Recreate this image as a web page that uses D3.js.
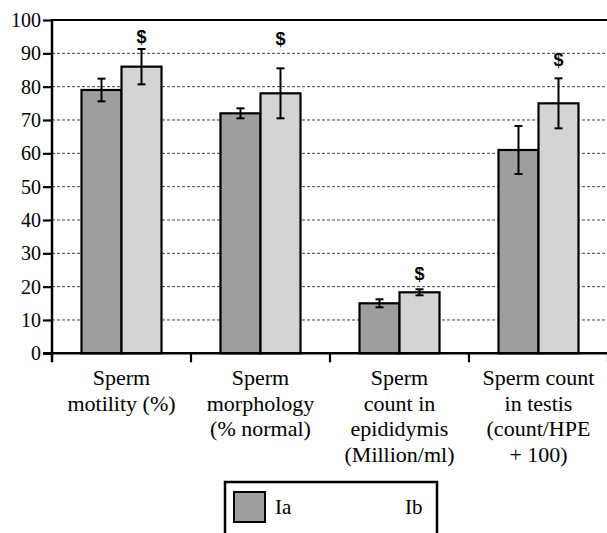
<!DOCTYPE html>
<html>
<head>
<meta charset="utf-8">
<script src="https://cdn.jsdelivr.net/npm/d3@7"></script>
<style>
  html, body { margin: 0; padding: 0; background: #fff; }
  svg { display: block; }
</style>
</head>
<body>
<div id="chart"></div>
<script>
// data
var categories = [
  ["Sperm", "motility (%)"],
  ["Sperm", "morphology", "(% normal)"],
  ["Sperm", "count in", "epididymis", "(Million/ml)"],
  ["Sperm count", "in testis", "(count/HPE", "+ 100)"]
];
var seriesNames = ["Ia", "Ib"];
var iaValues = [79, 72, 15, 61];
var iaErrors = [3.4, 1.5, 1.2, 7.2];
var ibValues = [86, 78, 18.3, 75];
var ibErrors = [5.3, 7.5, 0.9, 7.5];
var ibMarks = ["$", "$", "$", "$"];
var ibMarkLevels = [95, 94.5, 24, 88]; // value where the $ sits
var yTicks = [0, 10, 20, 30, 40, 50, 60, 70, 80, 90, 100];

var width = 607, height = 533;
var colors = { Ia: "#9e9e9e", Ib: "#d4d4d4" };
var SERIF = "'Liberation Serif', Tinos, 'Times New Roman', Times, 'DejaVu Serif', serif";

var svg = d3.select("#chart").append("svg")
  .attr("width", width)
  .attr("height", height);

// plot area runs off the right edge like the original
var x = d3.scaleBand()
  .domain(d3.range(categories.length))
  .range([52, 608])
  .padding(0);

var x1 = d3.scaleBand()
  .domain(seriesNames)
  .range([x.bandwidth() / 2 - 40, x.bandwidth() / 2 + 40]);

var y = d3.scaleLinear().domain([0, 100]).range([353.3, 20]);

// gridlines
svg.append("g")
  .selectAll("line")
  .data(yTicks.filter(function(t){ return t > 0 && t < 100; }))
  .enter().append("line")
  .attr("x1", 52).attr("x2", width)
  .attr("y1", function(d){ return y(d); })
  .attr("y2", function(d){ return y(d); })
  .attr("stroke", "#444")
  .attr("stroke-width", 1)
  .attr("stroke-dasharray", "3,2");

// top frame line
svg.append("line")
  .attr("x1", 52).attr("x2", width)
  .attr("y1", y(100)).attr("y2", y(100))
  .attr("stroke", "#000").attr("stroke-width", 2);

var flat = [];
categories.forEach(function(c, i){
  flat.push({ cat: i, s: "Ia", v: iaValues[i], e: iaErrors[i], m: null });
  flat.push({ cat: i, s: "Ib", v: ibValues[i], e: ibErrors[i], m: ibMarks[i], ml: ibMarkLevels[i] });
});

var bars = svg.append("g").selectAll("g")
  .data(flat)
  .enter().append("g")
  .attr("transform", function(d){ return "translate(" + (x(d.cat) + x1(d.s)) + ",0)"; });

bars.append("rect")
  .attr("x", 0)
  .attr("width", x1.bandwidth())
  .attr("y", function(d){ return y(d.v); })
  .attr("height", function(d){ return y(0) - y(d.v); })
  .attr("fill", function(d){ return colors[d.s]; })
  .attr("stroke", "#000")
  .attr("stroke-width", 2.2);

// error bars
var bw = x1.bandwidth();
bars.append("line")
  .attr("x1", bw / 2).attr("x2", bw / 2)
  .attr("y1", function(d){ return y(d.v + d.e); })
  .attr("y2", function(d){ return y(d.v - d.e); })
  .attr("stroke", "#000").attr("stroke-width", 2);
bars.append("line")
  .attr("x1", bw / 2 - 4).attr("x2", bw / 2 + 4)
  .attr("y1", function(d){ return y(d.v + d.e); })
  .attr("y2", function(d){ return y(d.v + d.e); })
  .attr("stroke", "#000").attr("stroke-width", 2);
bars.append("line")
  .attr("x1", bw / 2 - 4).attr("x2", bw / 2 + 4)
  .attr("y1", function(d){ return y(d.v - d.e); })
  .attr("y2", function(d){ return y(d.v - d.e); })
  .attr("stroke", "#000").attr("stroke-width", 2);

// significance marks
bars.filter(function(d){ return d.m; })
  .append("text")
  .attr("x", bw / 2)
  .attr("y", function(d){ return y(d.ml); })
  .attr("dy", "0.35em")
  .attr("text-anchor", "middle")
  .style("font-family", "'Liberation Sans Narrow', 'Liberation Sans', Arial, sans-serif")
  .style("font-weight", "bold")
  .style("font-size", "18px")
  .text(function(d){ return d.m; });

// y axis
var yAxis = svg.append("g")
  .attr("transform", "translate(52,0)")
  .call(d3.axisLeft(y).tickValues(yTicks).tickSize(9).tickPadding(2));
yAxis.attr("font-family", SERIF).attr("font-size", 20);
yAxis.select(".domain").remove();
yAxis.selectAll(".tick line").attr("stroke", "#000").attr("stroke-width", 2.2);
yAxis.selectAll(".tick text")
  .style("font-family", SERIF)
  .style("font-size", "20px")
  .attr("fill", "#000");
svg.append("line")
  .attr("x1", 52).attr("x2", 52)
  .attr("y1", y(100) - 1).attr("y2", y(0) + 9)
  .attr("stroke", "#000").attr("stroke-width", 2.5);

// x axis
svg.append("line")
  .attr("x1", 43).attr("x2", width)
  .attr("y1", y(0)).attr("y2", y(0))
  .attr("stroke", "#000").attr("stroke-width", 2.5);
svg.append("g").selectAll("line")
  .data(d3.range(1, categories.length + 1))
  .enter().append("line")
  .attr("x1", function(i){ return 52 + i * x.bandwidth(); })
  .attr("x2", function(i){ return 52 + i * x.bandwidth(); })
  .attr("y1", y(0)).attr("y2", y(0) + 9)
  .attr("stroke", "#000").attr("stroke-width", 2.2);

var labels = svg.append("g").selectAll("text")
  .data(categories)
  .enter().append("text")
  .attr("text-anchor", "middle")
  .style("font-family", SERIF)
  .style("font-size", "22px")
  .attr("fill", "#000");
labels.each(function(lines, i){
  var t = d3.select(this);
  lines.forEach(function(l, k){
    t.append("tspan")
      .attr("x", x(i) + x.bandwidth() / 2)
      .attr("y", 385 + k * 25.5)
      .text(l);
  });
});

// legend (cut off at bottom like the original)
var legend = svg.append("g");
legend.append("rect")
  .attr("x", 225).attr("y", 482)
  .attr("width", 212).attr("height", 80)
  .attr("fill", "#fff")
  .attr("stroke", "#000").attr("stroke-width", 2.5);
legend.append("rect")
  .attr("x", 234).attr("y", 492)
  .attr("width", 31).attr("height", 30)
  .attr("fill", colors.Ia)
  .attr("stroke", "#000").attr("stroke-width", 2);
legend.selectAll("text.lg")
  .data(seriesNames)
  .enter().append("text")
  .attr("class", "lg")
  .attr("x", function(d, i){ return i === 0 ? 275 : 405; })
  .attr("y", 514)
  .style("font-family", SERIF)
  .style("font-size", "21px")
  .text(function(d){ return d; });
</script>
</body>
</html>
